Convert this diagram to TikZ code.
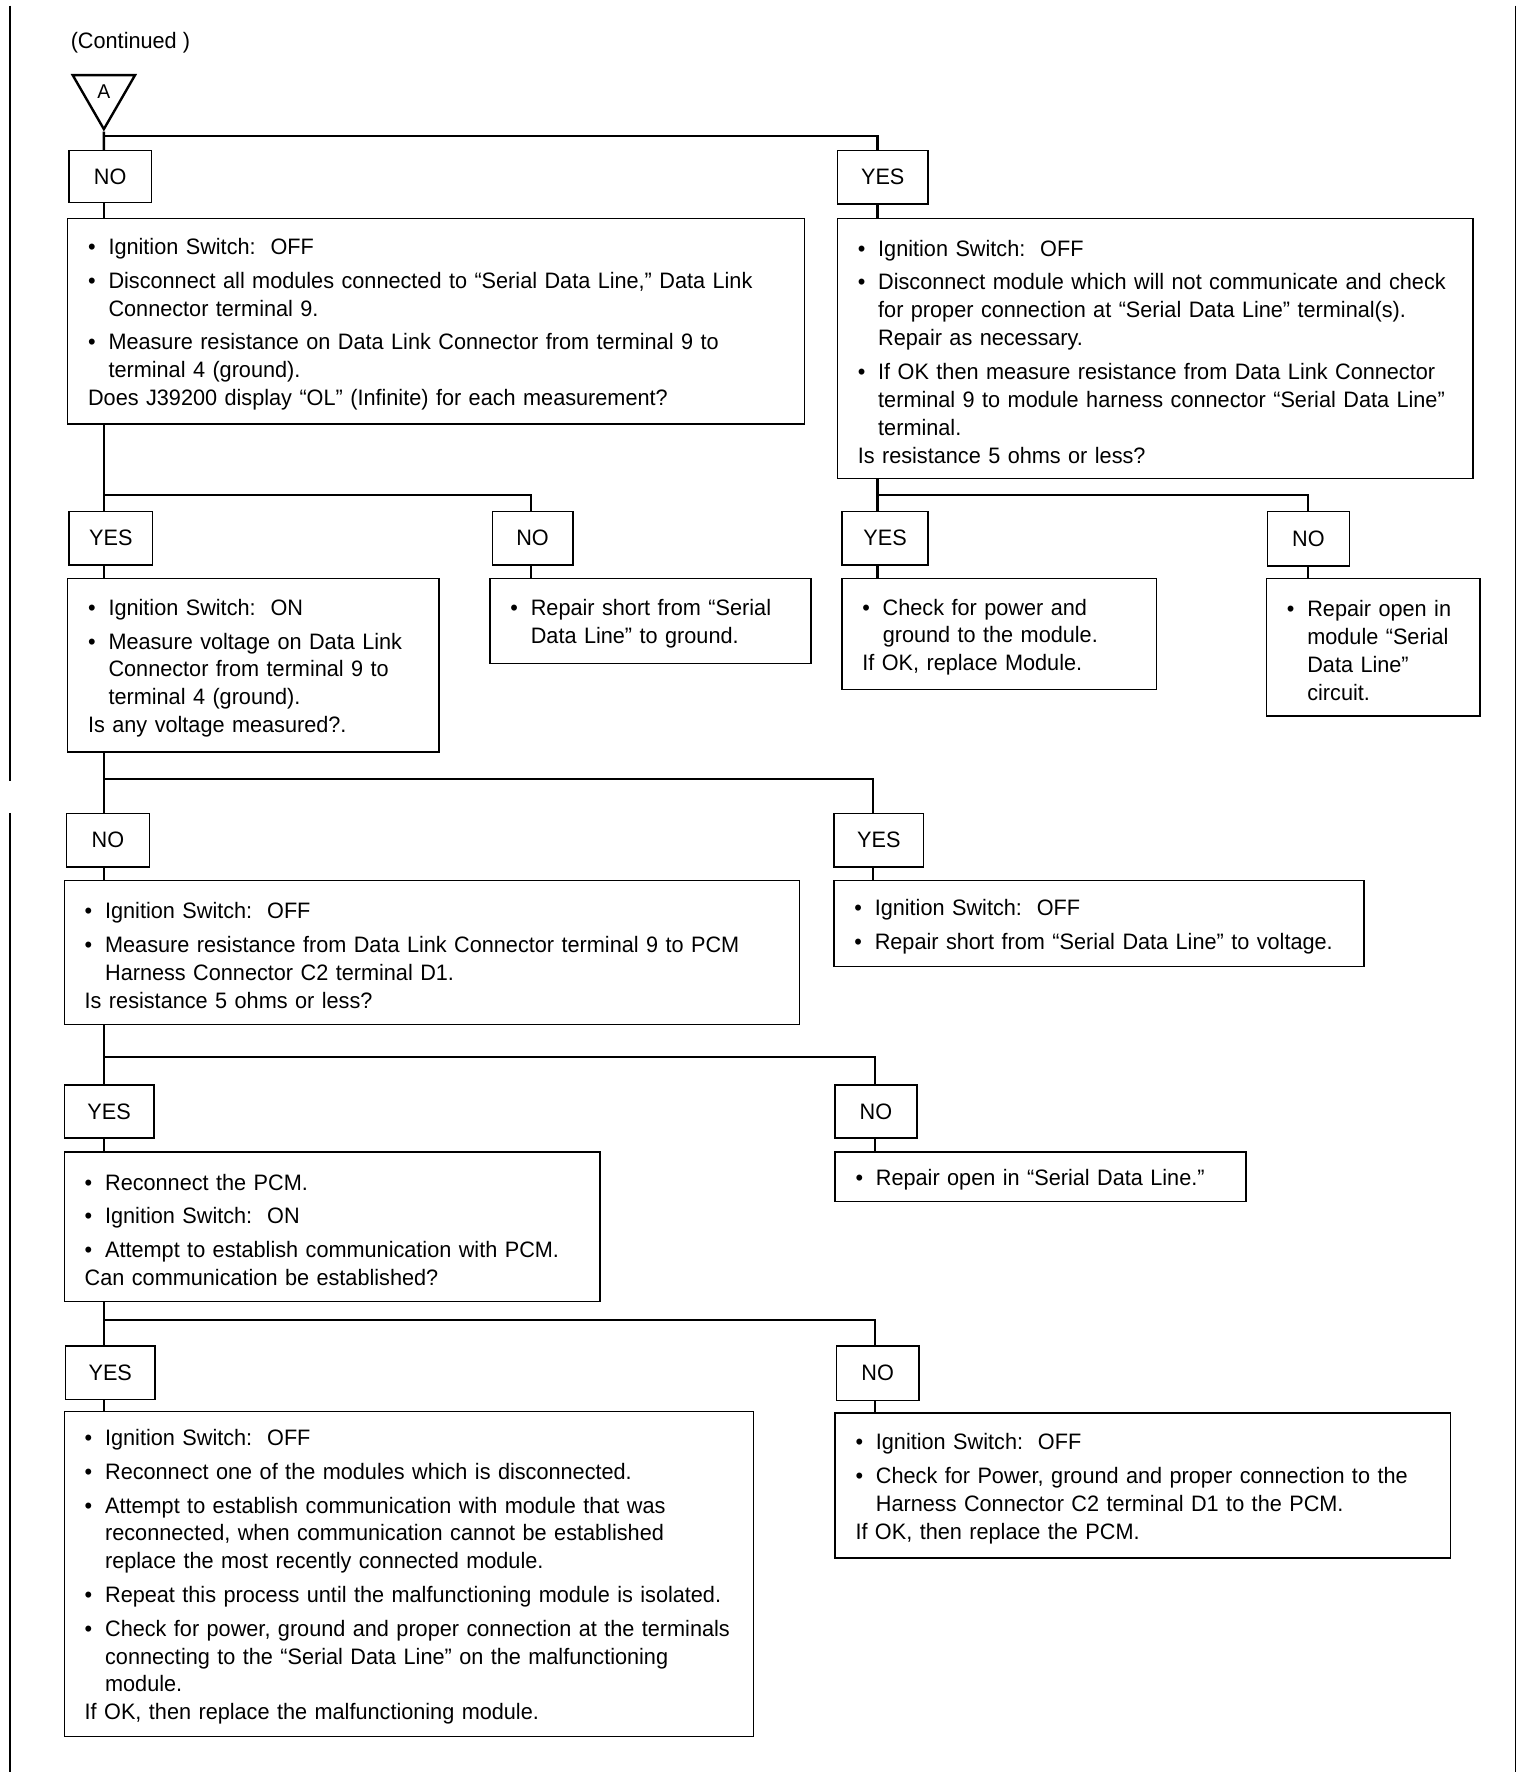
\documentclass[tikz,border=0pt]{standalone}
\usepackage{fontspec}
\setmainfont{Liberation Sans}[FakeStretch=0.97]
\usetikzlibrary{shapes.geometric}
\frenchspacing
\newcommand{\bul}[1]{\par\vspace{0.1cm}\noindent\hbox to 0.36cm{\textbullet\hfil}\mbox{#1}}
\newcommand{\cont}[1]{\par\noindent\hspace*{0.36cm}\mbox{#1}}
\newcommand{\ask}[1]{\par\noindent\mbox{#1}}
\tikzset{
	every node/.style={font=\fontsize{11.2}{14}\selectfont},
	answer/.style={draw, line width=0.7pt, anchor=north west, inner sep=0pt},
	stepbox/.style={draw, line width=0.7pt, anchor=north west, inner xsep=0.36cm, inner ysep=0pt, align=left,
		execute at begin node={\vspace{-0.1cm}}, execute at end node={\par\kern0.1cm}},
	link/.style={line width=1.2pt},
}

\begin{document}
\begin{tikzpicture}[x=0.02cm,y=-0.02cm]
			\useasboundingbox (0,0) rectangle (1353,1568);
			\fill[white] (0,0) rectangle (1353,1568);
			% page edges
			\draw[line width=0.8pt] (9,5) -- (9,688);
			\draw[line width=0.8pt] (9,716) -- (9,1561);
			\draw[line width=0.8pt] (1335,5) -- (1335,1561);
			\node[anchor=west, inner sep=0pt] (contd) at (62,38) {(Continued )};
			\node[draw, line width=1.2pt, regular polygon, regular polygon sides=3, shape border rotate=180, minimum size=1.27cm, inner sep=0pt, font=\fontsize{10}{11}\selectfont] (A) at (91.5,82) {\raisebox{0.06cm}{A}};
			% columns and junctions
			\coordinate (cL) at (91.5,0);
			\coordinate (cR) at (773,0);
			\coordinate (cN2) at (468,0);
			\coordinate (cN3) at (1152,0);
			\coordinate (cR4) at (769,0);
			\coordinate (cR5) at (771,0);
			\coordinate (j1) at (91.5,120);
			\coordinate (j2) at (91.5,436);
			\coordinate (j3) at (773,436);
			\coordinate (j4) at (91.5,686);
			\coordinate (j5) at (91.5,931);
			\coordinate (j6) at (91.5,1163);
			% yes / no boxes
			\node[answer, minimum width=1.46cm, minimum height=0.92cm] (no1) at (60,132) {NO};
			\node[answer, minimum width=1.6cm, minimum height=0.94cm] (yes1) at (737,132) {YES};
			\node[answer, minimum width=1.48cm, minimum height=0.94cm] (yes2) at (60,450) {YES};
			\node[answer, minimum width=1.42cm, minimum height=0.94cm] (no2) at (433,450) {NO};
			\node[answer, minimum width=1.52cm, minimum height=0.94cm] (yes3) at (741,450) {YES};
			\node[answer, minimum width=1.44cm, minimum height=0.96cm] (no3) at (1116,450) {NO};
			\node[answer, minimum width=1.46cm, minimum height=0.94cm] (no4) at (58,716) {NO};
			\node[answer, minimum width=1.58cm, minimum height=0.94cm] (yes4) at (734,716) {YES};
			\node[answer, minimum width=1.58cm, minimum height=0.94cm] (yes5) at (56,955) {YES};
			\node[answer, minimum width=1.44cm, minimum height=0.94cm] (no5) at (735,955) {NO};
			\node[answer, minimum width=1.58cm, minimum height=0.94cm] (yes6) at (57,1185) {YES};
			\node[answer, minimum width=1.46cm, minimum height=0.96cm] (no6) at (736,1185) {NO};
			% steps
			\node[stepbox, text width=12.26cm, minimum height=3.62cm] (q1) at (59,192) {%
				\bul{Ignition Switch:~ OFF}
				\bul{Disconnect all modules connected to “Serial Data Line,” Data Link}
				\cont{Connector terminal 9.}
				\bul{Measure resistance on Data Link Connector from terminal 9 to}
				\cont{terminal 4 (ground).}
				\ask{Does J39200 display “OL” (Infinite) for each measurement?}};
			\node[stepbox, text width=10.48cm, minimum height=4.58cm] (q2) at (737,192) {%
				\bul{Ignition Switch:~ OFF}
				\bul{Disconnect module which will not communicate and check}
				\cont{for proper connection at “Serial Data Line” terminal(s).}
				\cont{Repair as necessary.}
				\bul{If OK then measure resistance from Data Link Connector}
				\cont{terminal 9 to module harness connector “Serial Data Line”}
				\cont{terminal.}
				\ask{Is resistance 5 ohms or less?}};
			\node[stepbox, text width=5.82cm, minimum height=3.06cm] (q3) at (59,509) {%
				\bul{Ignition Switch:~ ON}
				\bul{Measure voltage on Data Link}
				\cont{Connector from terminal 9 to}
				\cont{terminal 4 (ground).}
				\ask{Is any voltage measured?.}};
			\node[stepbox, text width=4.94cm, minimum height=1.5cm] (r1) at (431,509) {%
				\bul{Repair short from “Serial}
				\cont{Data Line” to ground.}};
			\node[stepbox, text width=4.82cm, minimum height=1.96cm] (r2) at (741,509) {%
				\bul{Check for power and}
				\cont{ground to the module.}
				\ask{If OK, replace Module.}};
			\node[stepbox, text width=3.04cm, minimum height=2.42cm] (r3) at (1115,509) {%
				\bul{Repair open in}
				\cont{module “Serial}
				\cont{Data Line”}
				\cont{circuit.}};
			\node[stepbox, text width=12.24cm, minimum height=2.54cm] (q4) at (56,775) {%
				\bul{Ignition Switch:~ OFF}
				\bul{Measure resistance from Data Link Connector terminal 9 to PCM}
				\cont{Harness Connector C2 terminal D1.}
				\ask{Is resistance 5 ohms or less?}};
			\node[stepbox, text width=8.62cm, minimum height=1.52cm] (r4) at (734,775) {%
				\bul{Ignition Switch:~ OFF}
				\bul{Repair short from “Serial Data Line” to voltage.}};
			\node[stepbox, text width=8.72cm, minimum height=2.64cm] (q5) at (56,1014) {%
				\bul{Reconnect the PCM.}
				\bul{Ignition Switch:~ ON}
				\bul{Attempt to establish communication with PCM.}
				\ask{Can communication be established?}};
			\node[stepbox, text width=6.52cm, minimum height=0.88cm] (r5) at (735,1014) {%
				\bul{Repair open in “Serial Data Line.”}};
			\node[stepbox, text width=11.42cm, minimum height=5.72cm] (r6) at (56,1243) {%
				\bul{Ignition Switch:~ OFF}
				\bul{Reconnect one of the modules which is disconnected.}
				\bul{Attempt to establish communication with module that was}
				\cont{reconnected, when communication cannot be established}
				\cont{replace the most recently connected module.}
				\bul{Repeat this process until the malfunctioning module is isolated.}
				\bul{Check for power, ground and proper connection at the terminals}
				\cont{connecting to the “Serial Data Line” on the malfunctioning}
				\cont{module.}
				\ask{If OK, then replace the malfunctioning module.}};
			\node[stepbox, text width=10.12cm, minimum height=2.56cm] (r7) at (735,1244) {%
				\bul{Ignition Switch:~ OFF}
				\bul{Check for Power, ground and proper connection to the}
				\cont{Harness Connector C2 terminal D1 to the PCM.}
				\ask{If OK, then replace the PCM.}};
			% links
			\draw[link] (A.south) -- (no1.north -| cL);
			\foreach \j/\n/\c in {j1/yes1/cR, j2/no2/cN2, j3/no3/cN3, j4/yes4/cR4, j5/no5/cR5, j6/no6/cR5} {
				\draw[link] (\j) -| (\n.north -| \c);
			}
			\foreach \a/\b/\c in {no1/q1/cL, yes1/q2/cR, q1/yes2/cL, yes2/q3/cL, no2/r1/cN2, q2/yes3/cR, yes3/r2/cR, no3/r3/cN3,
				q3/no4/cL, no4/q4/cL, yes4/r4/cR4, q4/yes5/cL, yes5/q5/cL, no5/r5/cR5, q5/yes6/cL, yes6/r6/cL, no6/r7/cR5} {
				\draw[link] (\a.south -| \c) -- (\b.north -| \c);
			}
\end{tikzpicture}
\end{document}
